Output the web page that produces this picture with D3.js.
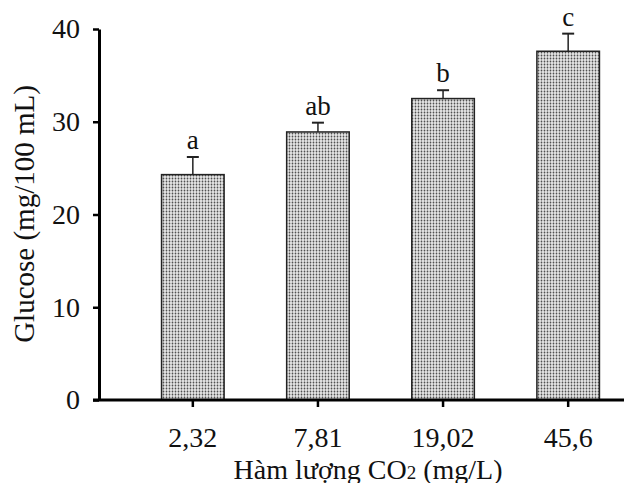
<!DOCTYPE html>
<html>
<head>
<meta charset="utf-8">
<script src="https://cdn.jsdelivr.net/npm/d3@7"></script>
<style>
    body { margin: 0; background: #fff; }
    svg text { font-family: "Liberation Serif", "Times New Roman", serif; fill: #111; }
</style>
</head>
<body>
<div id="chart"></div>
<script>
// CO2 levels (mg/L) and glucose (mg/100 mL)
const categories = ["2,32", "7,81", "19,02", "45,6"];
const glucose = [24.3, 28.9, 32.5, 37.6];
const errors = [1.9, 1.0, 0.9, 1.9];
const groups = ["a", "ab", "b", "c"];
const yTicks = [0, 10, 20, 30, 40];

const width = 624;
const height = 483;

const svg = d3.select("#chart")
    .append("svg")
    .attr("width", width)
    .attr("height", height);

// stippled bar fill
const defs = svg.append("defs");
const pat = defs.append("pattern")
    .attr("id", "dots")
    .attr("patternUnits", "userSpaceOnUse")
    .attr("width", 3)
    .attr("height", 3);
pat.append("rect").attr("width", 3).attr("height", 3).attr("fill", "#dedede");
pat.append("rect").attr("x", 1).attr("y", 0).attr("width", 1).attr("height", 3).attr("fill", "#a4a4a4");
pat.append("rect").attr("x", 0).attr("y", 1).attr("width", 3).attr("height", 1).attr("fill", "#b8b8b8");
pat.append("rect").attr("x", 1).attr("y", 1).attr("width", 1).attr("height", 1).attr("fill", "#505050");

const axisX = 99;
const x = d3.scaleBand()
    .domain(categories)
    .range([axisX, 662])
    .paddingInner(0.5)
    .paddingOuter(0.5);

const y = d3.scaleLinear()
    .domain([0, 40])
    .range([400, 29]);

// bars
svg.selectAll("rect.bar")
    .data(glucose)
    .enter()
    .append("rect")
    .attr("class", "bar")
    .attr("x", (d, i) => x(categories[i]))
    .attr("y", d => y(d))
    .attr("width", x.bandwidth())
    .attr("height", d => y(0) - y(d))
    .attr("fill", "url(#dots)")
    .attr("stroke", "#222")
    .attr("stroke-width", 1.5);

// upper error bars
const cx = i => x(categories[i]) + x.bandwidth() / 2;
svg.selectAll("line.err")
    .data(glucose)
    .enter()
    .append("line")
    .attr("class", "err")
    .attr("x1", (d, i) => cx(i))
    .attr("x2", (d, i) => cx(i))
    .attr("y1", d => y(d))
    .attr("y2", (d, i) => y(d + errors[i]))
    .attr("stroke", "#222")
    .attr("stroke-width", 1.5);
svg.selectAll("line.cap")
    .data(glucose)
    .enter()
    .append("line")
    .attr("class", "cap")
    .attr("x1", (d, i) => cx(i) - 6)
    .attr("x2", (d, i) => cx(i) + 6)
    .attr("y1", (d, i) => y(d + errors[i]))
    .attr("y2", (d, i) => y(d + errors[i]))
    .attr("stroke", "#222")
    .attr("stroke-width", 2);

// significance letters
svg.selectAll("text.grp")
    .data(glucose)
    .enter()
    .append("text")
    .attr("class", "grp")
    .attr("x", (d, i) => cx(i))
    .attr("y", (d, i) => y(d + errors[i]) - 8)
    .attr("text-anchor", "middle")
    .attr("font-size", 27)
    .text((d, i) => groups[i]);

// y axis
const yAxis = svg.append("g")
    .attr("transform", `translate(${axisX},0)`)
    .call(d3.axisLeft(y).tickValues(yTicks).tickSize(6).tickSizeOuter(0).tickPadding(13));
yAxis.select(".domain").attr("stroke", "#000").attr("stroke-width", 3);
yAxis.selectAll(".tick line").attr("stroke", "#000").attr("stroke-width", 2.5);
yAxis.selectAll(".tick text")
    .attr("font-size", 28)
    .attr("font-family", "Liberation Serif")
    .attr("fill", "#111");

// x axis
const xAxis = svg.append("g")
    .attr("transform", `translate(0,${y(0)})`)
    .call(d3.axisBottom(x).tickSize(7).tickSizeOuter(0).tickPadding(20));
xAxis.select(".domain").remove();
xAxis.append("line")
    .attr("x1", axisX - 6)
    .attr("x2", width)
    .attr("stroke", "#000")
    .attr("stroke-width", 3);
xAxis.selectAll(".tick line").attr("stroke", "#000").attr("stroke-width", 2.5);
xAxis.selectAll(".tick text")
    .attr("font-size", 28)
    .attr("font-family", "Liberation Serif")
    .attr("fill", "#111");

// axis titles
const xTitle = svg.append("text")
    .attr("x", 368)
    .attr("y", 479)
    .attr("text-anchor", "middle")
    .attr("font-size", 28);
xTitle.append("tspan").text("Hàm lượng CO");
xTitle.append("tspan").attr("font-size", 19).text("2");
xTitle.append("tspan").text(" (mg/L)");

svg.append("text")
    .attr("transform", "translate(34,214) rotate(-90)")
    .attr("text-anchor", "middle")
    .attr("font-size", 29)
    .text("Glucose (mg/100 mL)");
</script>
</body>
</html>
